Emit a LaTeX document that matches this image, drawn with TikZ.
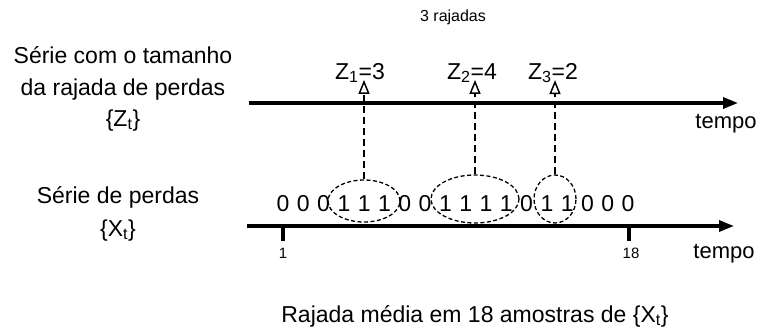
\documentclass[tikz,border=0pt]{standalone}
\usepackage{fontspec}
\setmainfont{Liberation Sans}
\usetikzlibrary{arrows.meta,shapes.geometric}
\begin{document}
\begin{tikzpicture}[x=1pt,y=-1pt,
  big/.style={font=\fontsize{23}{28}\selectfont, inner sep=0pt, anchor=base},
  bit/.style={font=\fontsize{23}{28}\selectfont, inner sep=0pt, anchor=base},
  small/.style={font=\fontsize{15}{18}\selectfont, inner sep=0pt, anchor=base},
  axisline/.style={line width=3.2pt, -{Triangle[length=15pt,width=11pt]}},
  tickline/.style={line width=3.5pt},
  burst/.style={ellipse, draw, line width=1.3pt, dash pattern=on 4pt off 2.5pt, inner sep=0pt},
  uparrow/.style={line width=1.5pt, dash pattern=on 7pt off 4pt, -{Triangle[open,length=14pt,width=11pt,line width=1.5pt]}}
]
\useasboundingbox (0,0) rectangle (767,332);

% left labels
\node[big] (l1) at (123,63) {Série com o tamanho};
\node[big] (l2) at (123,95) {da rajada de perdas};
\node[big] (l3) at (123,126) {\{Z$_\mathrm{t}$\}};
\node[big] (l4) at (118,203) {Série de perdas};
\node[big] (l5) at (118,236) {\{X$_\mathrm{t}$\}};

% top
\node[small, font=\fontsize{16}{18}\selectfont] (raj) at (453,21) {3 rajadas};
\coordinate (za) at (249,103);
\coordinate (zb) at (738,103);
\draw[axisline] (za) -- (zb);
\node[big, font=\fontsize{22}{26}\selectfont] (tz) at (726,128) {tempo};

\node[big] (z1) at (360,79) {Z\textsubscript{1}=3};
\node[big] (z2) at (472,79) {Z\textsubscript{2}=4};
\node[big] (z3) at (553,79) {Z\textsubscript{3}=2};

% bits
\foreach \b [count=\i] in {0,0,0,1,1,1,0,0,1,1,1,1,0,1,1,0,0,0} {
  \node[bit] (b\i) at ({283+20.3*(\i-1)},211) {\b};
}

% bottom axis
\coordinate (xa) at (247,226);
\coordinate (xb) at (734,226);
\draw[axisline] (xa) -- (xb);
\node[small] (n1) at (283,258) {1};
\node[small] (n18) at (631,258) {18};
\coordinate (t1a) at (283,226);
\coordinate (t1b) at (283,241);
\coordinate (t18a) at (629,226);
\coordinate (t18b) at (629,241);
\draw[tickline] (t1a) -- (t1b);
\draw[tickline] (t18a) -- (t18b);
\node[big, font=\fontsize{22}{26}\selectfont] (tx) at (724,258) {tempo};

% bursts
\node[burst, minimum width=72pt, minimum height=42pt] (e1) at (364,201) {};
\node[burst, minimum width=88pt, minimum height=48pt] (e2) at (475,199) {};
\node[burst, minimum width=42pt, minimum height=48pt] (e3) at (555,199) {};

\draw[uparrow] (e1.north) -- ([yshift=3pt]e1.north |- z1.south);
\draw[uparrow] (e2.north) -- ([yshift=3pt]e2.north |- z2.south);
\draw[uparrow] (e3.north) -- ([yshift=3pt]e3.north |- z3.south);

\node[big] (bot) at (475,322) {Rajada média em 18 amostras de \{X$_\mathrm{t}$\}};
\end{tikzpicture}
\end{document}
